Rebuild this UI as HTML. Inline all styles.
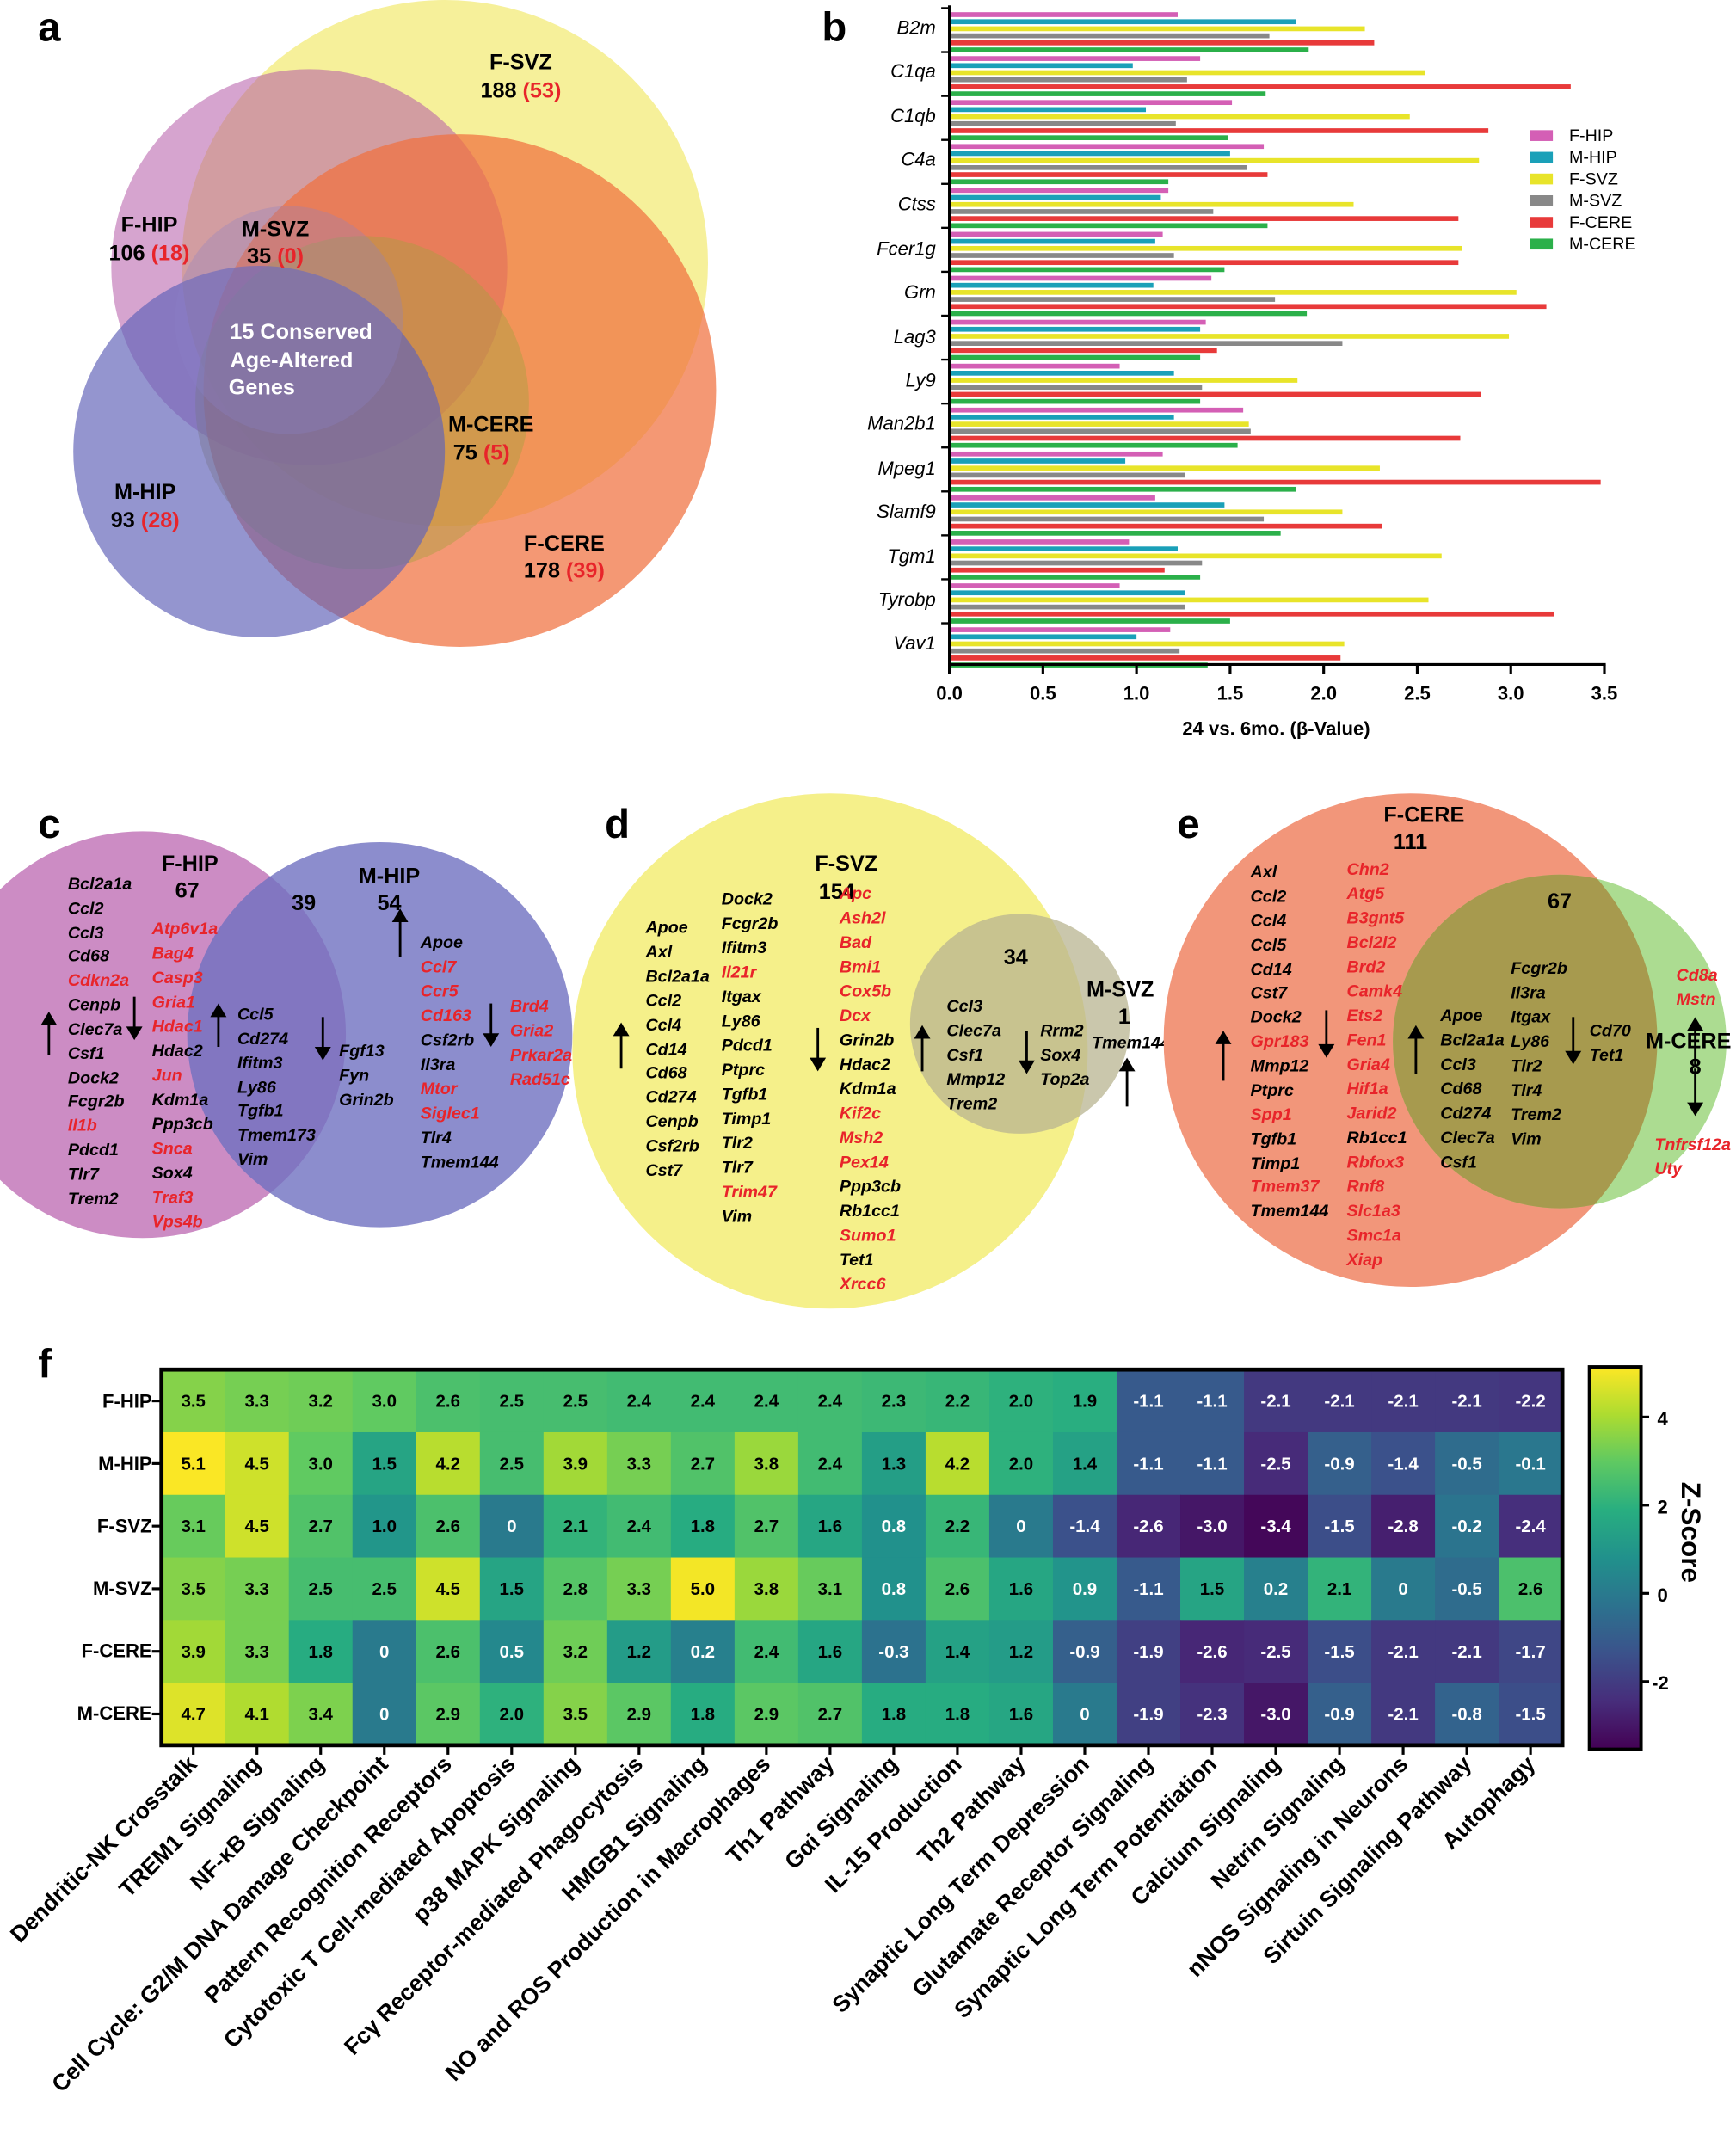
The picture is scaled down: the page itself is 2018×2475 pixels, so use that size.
<!DOCTYPE html>
<html><head><meta charset="utf-8">
<style>
html,body{margin:0;padding:0;background:#fff;}
svg{display:block;font-family:"Liberation Sans",Arial,sans-serif;}
.g{font-size:12.5px;font-weight:bold;font-style:italic;fill:#000;}
.r{fill:#e8242a;}
.h{font-size:16px;font-weight:bold;}
.pl{font-size:30px;font-weight:bold;}
.t{font-size:14px;font-weight:bold;}
.hv{font-size:13px;font-weight:bold;text-anchor:middle;}
.cl{font-size:17px;font-weight:bold;text-anchor:end;}
</style></head><body>
<svg id="s" width="2018" height="2475" viewBox="0 0 1280 1570" xmlns="http://www.w3.org/2000/svg">
<rect width="1280" height="1570" fill="#fff"/>
<text class="pl" x="28" y="30">a</text>
<text class="pl" x="606" y="30">b</text>
<text class="pl" x="28" y="618">c</text>
<text class="pl" x="446" y="618">d</text>
<text class="pl" x="868" y="618">e</text>
<text class="pl" x="28" y="1016">f</text>

<!-- Panel a -->
<circle cx="328" cy="194" r="194" fill="#f6f09a"/>
<circle cx="228" cy="197" r="146" fill="#b45aa8" opacity="0.55"/>
<circle cx="339" cy="288" r="189" fill="#f0703e" opacity="0.72"/>
<circle cx="267" cy="297" r="123" fill="#a8a040" opacity="0.45"/>
<circle cx="191" cy="333" r="137" fill="#6163b8" opacity="0.68"/>
<circle cx="213" cy="236" r="84" fill="#8a80c8" opacity="0.3"/>
<g class="h" text-anchor="middle">
<text x="384" y="51">F-SVZ</text><text x="384" y="72">188 <tspan class="r">(53)</tspan></text>
<text x="110" y="171">F-HIP</text><text x="110" y="192">106 <tspan class="r">(18)</tspan></text>
<text x="203" y="174">M-SVZ</text><text x="203" y="194">35 <tspan class="r">(0)</tspan></text>
<text x="222" y="250" fill="#fff">15 Conserved</text><text x="215" y="271" fill="#fff">Age-Altered</text><text x="193" y="291" fill="#fff">Genes</text>
<text x="362" y="318">M-CERE</text><text x="355" y="339">75 <tspan class="r">(5)</tspan></text>
<text x="107" y="368">M-HIP</text><text x="107" y="389">93 <tspan class="r">(28)</tspan></text>
<text x="416" y="406">F-CERE</text><text x="416" y="426">178 <tspan class="r">(39)</tspan></text>
</g>

<!-- Panel b -->
<g id="bars"></g>
<line x1="700" y1="4" x2="700" y2="491" stroke="#000" stroke-width="2"/>
<line x1="699" y1="490" x2="1184" y2="490" stroke="#000" stroke-width="2"/>
<g id="bticks"></g>
<g class="t" text-anchor="middle">
<text x="700" y="516">0.0</text><text x="769" y="516">0.5</text><text x="838" y="516">1.0</text><text x="907" y="516">1.5</text><text x="976" y="516">2.0</text><text x="1045" y="516">2.5</text><text x="1114" y="516">3.0</text><text x="1183" y="516">3.5</text>
<text x="941" y="542">24 vs. 6mo. (β-Value)</text>
</g>
<g font-size="14" font-style="italic" text-anchor="end">
<text x="690" y="25">B2m</text><text x="690" y="57">C1qa</text><text x="690" y="90">C1qb</text><text x="690" y="122">C4a</text><text x="690" y="155">Ctss</text><text x="690" y="188">Fcer1g</text><text x="690" y="220">Grn</text><text x="690" y="253">Lag3</text><text x="690" y="285">Ly9</text><text x="690" y="317">Man2b1</text><text x="690" y="350">Mpeg1</text><text x="690" y="382">Slamf9</text><text x="690" y="415">Tgm1</text><text x="690" y="447">Tyrobp</text><text x="690" y="479">Vav1</text>
</g>
<g font-size="12.5">
<rect x="1128" y="96" width="17" height="8" fill="#d45fb5"/><text x="1157" y="104">F-HIP</text>
<rect x="1128" y="112" width="17" height="8" fill="#1aa0b8"/><text x="1157" y="120">M-HIP</text>
<rect x="1128" y="128" width="17" height="8" fill="#e8e42a"/><text x="1157" y="136">F-SVZ</text>
<rect x="1128" y="144" width="17" height="8" fill="#888888"/><text x="1157" y="152">M-SVZ</text>
<rect x="1128" y="160" width="17" height="8" fill="#e83a3a"/><text x="1157" y="168">F-CERE</text>
<rect x="1128" y="176" width="17" height="8" fill="#2bb04a"/><text x="1157" y="184">M-CERE</text>
</g>

<!-- Panel c -->
<circle cx="105" cy="763" r="150" fill="#cc8cc4"/>
<circle cx="280" cy="763" r="142" fill="#6f70c0" opacity="0.8"/>
<g class="h" text-anchor="middle">
<text x="140" y="642">F-HIP</text><text x="138" y="662">67</text>
<text x="224" y="671">39</text>
<text x="287" y="651">M-HIP</text><text x="287" y="671">54</text>
</g>
<g class="g">
<text x="50" y="656">Bcl2a1a</text><text x="50" y="674">Ccl2</text><text x="50" y="692">Ccl3</text><text x="50" y="709">Cd68</text><text x="50" y="727" class="g r">Cdkn2a</text><text x="50" y="745">Cenpb</text><text x="50" y="763">Clec7a</text><text x="50" y="781">Csf1</text><text x="50" y="799">Dock2</text><text x="50" y="816">Fcgr2b</text><text x="50" y="834" class="g r">Il1b</text><text x="50" y="852">Pdcd1</text><text x="50" y="870">Tlr7</text><text x="50" y="888">Trem2</text>
<text x="112" y="689" class="g r">Atp6v1a</text><text x="112" y="707" class="g r">Bag4</text><text x="112" y="725" class="g r">Casp3</text><text x="112" y="743" class="g r">Gria1</text><text x="112" y="761" class="g r">Hdac1</text><text x="112" y="779">Hdac2</text><text x="112" y="797" class="g r">Jun</text><text x="112" y="815">Kdm1a</text><text x="112" y="833">Ppp3cb</text><text x="112" y="851" class="g r">Snca</text><text x="112" y="869">Sox4</text><text x="112" y="887" class="g r">Traf3</text><text x="112" y="905" class="g r">Vps4b</text>
<text x="175" y="752">Ccl5</text><text x="175" y="770">Cd274</text><text x="175" y="788">Ifitm3</text><text x="175" y="806">Ly86</text><text x="175" y="823">Tgfb1</text><text x="175" y="841">Tmem173</text><text x="175" y="859">Vim</text>
<text x="250" y="779">Fgf13</text><text x="250" y="797">Fyn</text><text x="250" y="815">Grin2b</text>
<text x="310" y="699">Apoe</text><text x="310" y="717" class="g r">Ccl7</text><text x="310" y="735" class="g r">Ccr5</text><text x="310" y="753" class="g r">Cd163</text><text x="310" y="771">Csf2rb</text><text x="310" y="789">Il3ra</text><text x="310" y="807" class="g r">Mtor</text><text x="310" y="825" class="g r">Siglec1</text><text x="310" y="843">Tlr4</text><text x="310" y="861">Tmem144</text>
<text x="376" y="746" class="g r">Brd4</text><text x="376" y="764" class="g r">Gria2</text><text x="376" y="782" class="g r">Prkar2a</text><text x="376" y="800" class="g r">Rad51c</text>
</g>

<!-- Panel d -->
<circle cx="612" cy="775" r="190" fill="#f5f08a"/>
<circle cx="752" cy="755" r="81" fill="#b8b490" opacity="0.75"/>
<g class="h" text-anchor="middle">
<text x="624" y="642">F-SVZ</text><text x="617" y="663">154</text>
<text x="749" y="711">34</text>
<text x="826" y="735">M-SVZ</text><text x="829" y="755">1</text>
</g>
<g class="g">
<text x="476" y="688">Apoe</text><text x="476" y="706">Axl</text><text x="476" y="724">Bcl2a1a</text><text x="476" y="742">Ccl2</text><text x="476" y="760">Ccl4</text><text x="476" y="778">Cd14</text><text x="476" y="795">Cd68</text><text x="476" y="813">Cd274</text><text x="476" y="831">Cenpb</text><text x="476" y="849">Csf2rb</text><text x="476" y="867">Cst7</text>
<text x="532" y="667">Dock2</text><text x="532" y="685">Fcgr2b</text><text x="532" y="703">Ifitm3</text><text x="532" y="721" class="g r">Il21r</text><text x="532" y="739">Itgax</text><text x="532" y="757">Ly86</text><text x="532" y="775">Pdcd1</text><text x="532" y="793">Ptprc</text><text x="532" y="811">Tgfb1</text><text x="532" y="829">Timp1</text><text x="532" y="847">Tlr2</text><text x="532" y="865">Tlr7</text><text x="532" y="883" class="g r">Trim47</text><text x="532" y="901">Vim</text>
<text x="619" y="663" class="g r">Apc</text><text x="619" y="681" class="g r">Ash2l</text><text x="619" y="699" class="g r">Bad</text><text x="619" y="717" class="g r">Bmi1</text><text x="619" y="735" class="g r">Cox5b</text><text x="619" y="753" class="g r">Dcx</text><text x="619" y="771">Grin2b</text><text x="619" y="789">Hdac2</text><text x="619" y="807">Kdm1a</text><text x="619" y="825" class="g r">Kif2c</text><text x="619" y="843" class="g r">Msh2</text><text x="619" y="861" class="g r">Pex14</text><text x="619" y="879">Ppp3cb</text><text x="619" y="897">Rb1cc1</text><text x="619" y="915" class="g r">Sumo1</text><text x="619" y="933">Tet1</text><text x="619" y="951" class="g r">Xrcc6</text>
<text x="698" y="746">Ccl3</text><text x="698" y="764">Clec7a</text><text x="698" y="782">Csf1</text><text x="698" y="800">Mmp12</text><text x="698" y="818">Trem2</text>
<text x="767" y="764">Rrm2</text><text x="767" y="782">Sox4</text><text x="767" y="800">Top2a</text>
<text x="805" y="773">Tmem144</text>
</g>

<!-- Panel e -->
<circle cx="1040" cy="767" r="182" fill="#f2967a"/>
<circle cx="1150" cy="768" r="123" fill="#9ed67e" opacity="0.85"/>
<clipPath id="ce"><circle cx="1040" cy="767" r="182"/></clipPath>
<circle cx="1150" cy="768" r="123" fill="#a79a4e" clip-path="url(#ce)"/>
<g class="h" text-anchor="middle">
<text x="1050" y="606">F-CERE</text><text x="1040" y="626">111</text>
<text x="1150" y="670">67</text>
<text x="1245" y="773">M-CERE</text><text x="1250" y="792">8</text>
</g>
<g class="g">
<text x="922" y="647">Axl</text><text x="922" y="665">Ccl2</text><text x="922" y="683">Ccl4</text><text x="922" y="701">Ccl5</text><text x="922" y="719">Cd14</text><text x="922" y="736">Cst7</text><text x="922" y="754">Dock2</text><text x="922" y="772" class="g r">Gpr183</text><text x="922" y="790">Mmp12</text><text x="922" y="808">Ptprc</text><text x="922" y="826" class="g r">Spp1</text><text x="922" y="844">Tgfb1</text><text x="922" y="862">Timp1</text><text x="922" y="879" class="g r">Tmem37</text><text x="922" y="897">Tmem144</text>
<text x="993" y="645" class="g r">Chn2</text><text x="993" y="663" class="g r">Atg5</text><text x="993" y="681" class="g r">B3gnt5</text><text x="993" y="699" class="g r">Bcl2l2</text><text x="993" y="717" class="g r">Brd2</text><text x="993" y="735" class="g r">Camk4</text><text x="993" y="753" class="g r">Ets2</text><text x="993" y="771" class="g r">Fen1</text><text x="993" y="789" class="g r">Gria4</text><text x="993" y="807" class="g r">Hif1a</text><text x="993" y="825" class="g r">Jarid2</text><text x="993" y="843">Rb1cc1</text><text x="993" y="861" class="g r">Rbfox3</text><text x="993" y="879" class="g r">Rnf8</text><text x="993" y="897" class="g r">Slc1a3</text><text x="993" y="915" class="g r">Smc1a</text><text x="993" y="933" class="g r">Xiap</text>
<text x="1062" y="753">Apoe</text><text x="1062" y="771">Bcl2a1a</text><text x="1062" y="789">Ccl3</text><text x="1062" y="807">Cd68</text><text x="1062" y="825">Cd274</text><text x="1062" y="843">Clec7a</text><text x="1062" y="861">Csf1</text>
<text x="1114" y="718">Fcgr2b</text><text x="1114" y="736">Il3ra</text><text x="1114" y="754">Itgax</text><text x="1114" y="772">Ly86</text><text x="1114" y="790">Tlr2</text><text x="1114" y="808">Tlr4</text><text x="1114" y="826">Trem2</text><text x="1114" y="844">Vim</text>
<text x="1172" y="764">Cd70</text><text x="1172" y="782">Tet1</text>
<text x="1236" y="723" class="g r">Cd8a</text><text x="1236" y="741" class="g r">Mstn</text>
<text x="1220" y="848" class="g r">Tnfrsf12a</text><text x="1220" y="866" class="g r">Uty</text>
</g>
<g id="arrows"></g>

<!-- Panel f -->
<g id="heat"></g>
<rect x="119" y="1010" width="1033" height="277" fill="none" stroke="#000" stroke-width="3"/>
<g class="t" font-size="16" text-anchor="end">
<text x="112" y="1038">F-HIP</text><text x="112" y="1084">M-HIP</text><text x="112" y="1130">F-SVZ</text><text x="112" y="1176">M-SVZ</text><text x="112" y="1222">F-CERE</text><text x="112" y="1268">M-CERE</text>
</g>
<defs><linearGradient id="vir" x1="0" y1="1" x2="0" y2="0">
<stop offset="0" stop-color="#440154"/><stop offset="0.125" stop-color="#472d7b"/><stop offset="0.25" stop-color="#3b528b"/><stop offset="0.375" stop-color="#2c728e"/><stop offset="0.5" stop-color="#21918c"/><stop offset="0.625" stop-color="#28ae80"/><stop offset="0.75" stop-color="#5ec962"/><stop offset="0.875" stop-color="#addc30"/><stop offset="1" stop-color="#fde725"/></linearGradient></defs>
<rect x="1172" y="1008" width="38" height="282" fill="url(#vir)" stroke="#000" stroke-width="2.5"/>
<g stroke="#000" stroke-width="2"><line x1="1210" y1="1045" x2="1216" y2="1045"/><line x1="1210" y1="1110" x2="1216" y2="1110"/><line x1="1210" y1="1175" x2="1216" y2="1175"/><line x1="1210" y1="1240" x2="1216" y2="1240"/></g>
<g class="t" font-size="16"><text x="1222" y="1051">4</text><text x="1222" y="1116">2</text><text x="1222" y="1181">0</text><text x="1218" y="1246">-2</text></g>
<text x="1240" y="1130" font-size="20" font-weight="bold" text-anchor="middle" transform="rotate(90 1240 1130)">Z-Score</text>
<g class="cl" id="colnames">
<text transform="translate(146,1302) rotate(-45)">Dendritic-NK Crosstalk</text>
<text transform="translate(193,1302) rotate(-45)">TREM1 Signaling</text>
<text transform="translate(240,1302) rotate(-45)">NF-κB Signaling</text>
<text transform="translate(287,1302) rotate(-45)">Cell Cycle: G2/M DNA Damage Checkpoint</text>
<text transform="translate(334,1302) rotate(-45)">Pattern Recognition Receptors</text>
<text transform="translate(381,1302) rotate(-45)">Cytotoxic T Cell-mediated Apoptosis</text>
<text transform="translate(428,1302) rotate(-45)">p38 MAPK Signaling</text>
<text transform="translate(475,1302) rotate(-45)">Fcγ Receptor-mediated Phagocytosis</text>
<text transform="translate(522,1302) rotate(-45)">HMGB1 Signaling</text>
<text transform="translate(569,1302) rotate(-45)">NO and ROS Production in Macrophages</text>
<text transform="translate(616,1302) rotate(-45)">Th1 Pathway</text>
<text transform="translate(663,1302) rotate(-45)">Gαi Signaling</text>
<text transform="translate(710,1302) rotate(-45)">IL-15 Production</text>
<text transform="translate(757,1302) rotate(-45)">Th2 Pathway</text>
<text transform="translate(804,1302) rotate(-45)">Synaptic Long Term Depression</text>
<text transform="translate(851,1302) rotate(-45)">Glutamate Receptor Signaling</text>
<text transform="translate(898,1302) rotate(-45)">Synaptic Long Term Potentiation</text>
<text transform="translate(945,1302) rotate(-45)">Calcium Signaling</text>
<text transform="translate(992,1302) rotate(-45)">Netrin Signaling</text>
<text transform="translate(1039,1302) rotate(-45)">nNOS Signaling in Neurons</text>
<text transform="translate(1086,1302) rotate(-45)">Sirtuin Signaling Pathway</text>
<text transform="translate(1133,1302) rotate(-45)">Autophagy</text>
</g>
<g id="hv" class="hv">
<text>3.5</text><text>3.3</text><text>3.2</text><text>3.0</text><text>2.6</text><text>2.5</text><text>2.5</text><text>2.4</text><text>2.4</text><text>2.4</text><text>2.4</text><text>2.3</text><text>2.2</text><text>2.0</text><text>1.9</text><text>-1.1</text><text>-1.1</text><text>-2.1</text><text>-2.1</text><text>-2.1</text><text>-2.1</text><text>-2.2</text>
<text>5.1</text><text>4.5</text><text>3.0</text><text>1.5</text><text>4.2</text><text>2.5</text><text>3.9</text><text>3.3</text><text>2.7</text><text>3.8</text><text>2.4</text><text>1.3</text><text>4.2</text><text>2.0</text><text>1.4</text><text>-1.1</text><text>-1.1</text><text>-2.5</text><text>-0.9</text><text>-1.4</text><text>-0.5</text><text>-0.1</text>
<text>3.1</text><text>4.5</text><text>2.7</text><text>1.0</text><text>2.6</text><text>0</text><text>2.1</text><text>2.4</text><text>1.8</text><text>2.7</text><text>1.6</text><text>0.8</text><text>2.2</text><text>0</text><text>-1.4</text><text>-2.6</text><text>-3.0</text><text>-3.4</text><text>-1.5</text><text>-2.8</text><text>-0.2</text><text>-2.4</text>
<text>3.5</text><text>3.3</text><text>2.5</text><text>2.5</text><text>4.5</text><text>1.5</text><text>2.8</text><text>3.3</text><text>5.0</text><text>3.8</text><text>3.1</text><text>0.8</text><text>2.6</text><text>1.6</text><text>0.9</text><text>-1.1</text><text>1.5</text><text>0.2</text><text>2.1</text><text>0</text><text>-0.5</text><text>2.6</text>
<text>3.9</text><text>3.3</text><text>1.8</text><text>0</text><text>2.6</text><text>0.5</text><text>3.2</text><text>1.2</text><text>0.2</text><text>2.4</text><text>1.6</text><text>-0.3</text><text>1.4</text><text>1.2</text><text>-0.9</text><text>-1.9</text><text>-2.6</text><text>-2.5</text><text>-1.5</text><text>-2.1</text><text>-2.1</text><text>-1.7</text>
<text>4.7</text><text>4.1</text><text>3.4</text><text>0</text><text>2.9</text><text>2.0</text><text>3.5</text><text>2.9</text><text>1.8</text><text>2.9</text><text>2.7</text><text>1.8</text><text>1.8</text><text>1.6</text><text>0</text><text>-1.9</text><text>-2.3</text><text>-3.0</text><text>-0.9</text><text>-2.1</text><text>-0.8</text><text>-1.5</text>
</g>
</svg>
<script>
var NS="http://www.w3.org/2000/svg";
function el(p,t,a){var e=document.createElementNS(NS,t);for(var k in a)e.setAttribute(k,a[k]);p.appendChild(e);return e;}
var bv=[[1.22,1.85,2.22,1.71,2.27,1.92],[1.34,0.98,2.54,1.27,3.32,1.69],[1.51,1.05,2.46,1.21,2.88,1.49],[1.68,1.50,2.83,1.59,1.70,1.17],[1.17,1.13,2.16,1.41,2.72,1.70],[1.14,1.10,2.74,1.20,2.72,1.47],[1.40,1.09,3.03,1.74,3.19,1.91],[1.37,1.34,2.99,2.10,1.43,1.34],[0.91,1.20,1.86,1.35,2.84,1.34],[1.57,1.20,1.60,1.61,2.73,1.54],[1.14,0.94,2.30,1.26,3.48,1.85],[1.10,1.47,2.10,1.68,2.31,1.77],[0.96,1.22,2.63,1.35,1.15,1.34],[0.91,1.26,2.56,1.26,3.23,1.50],[1.18,1.00,2.11,1.23,2.09,1.38]];
var bc=["#d45fb5","#1aa0b8","#e8e42a","#888888","#e83a3a","#2bb04a"];
var bg=document.getElementById("bars");
for(var i=0;i<15;i++){for(var k=0;k<6;k++){el(bg,"rect",{x:700,y:9+32.4*i+k*5.2,width:bv[i][k]*138,height:3.6,fill:bc[k]});}
 el(bg,"line",{x1:694,x2:700,y1:6+32.4*i,y2:6+32.4*i,stroke:"#000","stroke-width":1.5});}
var bt=document.getElementById("bticks");
for(var j=0;j<8;j++){var x=700+j*69;el(bt,"line",{x1:x,x2:x,y1:490,y2:497,stroke:"#000","stroke-width":2});}
var ag=document.getElementById("arrows");
function arr(x,y1,y2){var up=y2<y1;el(ag,"line",{x1:x,x2:x,y1:y1,y2:up?y2+8:y2-8,stroke:"#000","stroke-width":1.8});
 el(ag,"polygon",{points:up?(x-6)+","+(y2+10)+" "+(x+6)+","+(y2+10)+" "+x+","+y2:(x-6)+","+(y2-10)+" "+(x+6)+","+(y2-10)+" "+x+","+y2,fill:"#000"});}
arr(36,778,746);arr(99,735,767);arr(161,772,740);arr(238,750,782);arr(295,706,670);arr(362,740,772);
arr(458,788,754);arr(603,758,790);arr(680,790,756);arr(757,760,792);arr(831,816,780);
arr(902,797,760);arr(978,745,780);arr(1044,792,756);arr(1160,750,785);arr(1250,786,750);arr(1250,788,823);
var vs=[[0,"#440154"],[.125,"#472d7b"],[.25,"#3b528b"],[.375,"#2c728e"],[.5,"#21918c"],[.625,"#28ae80"],[.75,"#5ec962"],[.875,"#addc30"],[1,"#fde725"]];
function hx(c){return [parseInt(c.substr(1,2),16),parseInt(c.substr(3,2),16),parseInt(c.substr(5,2),16)];}
function vir(v){var t=(v+3.54)/(5.14+3.54);t=Math.max(0,Math.min(1,t));for(var i=0;i<8;i++){if(t<=vs[i+1][0]){var f=(t-vs[i][0])/0.125,a=hx(vs[i][1]),b=hx(vs[i+1][1]);return "rgb("+[0,1,2].map(function(j){return Math.round(a[j]+(b[j]-a[j])*f)}).join(",")+")";}}return "#fde725";}
var hg=document.getElementById("heat"),txt=document.getElementById("hv").getElementsByTagName("text");
var cw=1033/22,rh=277/6;
for(var n=0;n<txt.length;n++){var r=Math.floor(n/22),c=n%22,v=parseFloat(txt[n].textContent);
 el(hg,"rect",{x:119+c*cw,y:1010+r*rh,width:cw+0.5,height:rh+0.5,fill:vir(v)});
 txt[n].setAttribute("x",119+c*cw+cw/2);txt[n].setAttribute("y",1010+r*rh+rh/2+4.5);txt[n].setAttribute("fill",v<1?"#fff":"#000");}
for(var r=0;r<6;r++){var y=1010+r*rh+rh/2;el(hg,"line",{x1:112,x2:119,y1:y,y2:y,stroke:"#000","stroke-width":2});}
for(var c=0;c<22;c++){var x=119+c*cw+cw/2;el(hg,"line",{x1:x,x2:x,y1:1287,y2:1294,stroke:"#000","stroke-width":2});}
</script>
</body></html>
